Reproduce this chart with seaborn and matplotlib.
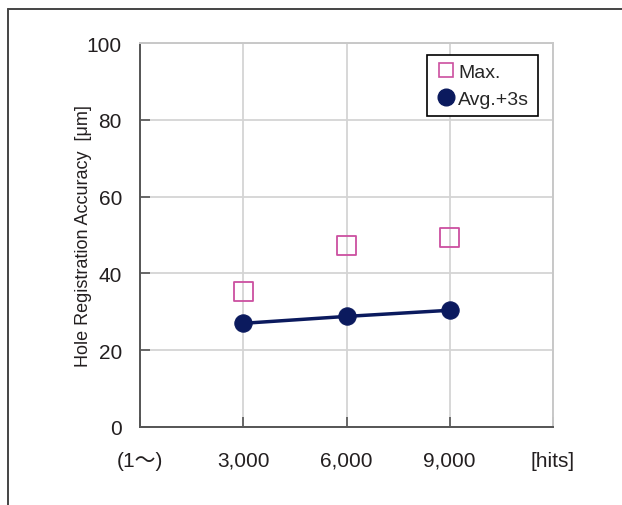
import matplotlib
matplotlib.use('Agg')
import matplotlib.pyplot as plt
import seaborn as sns
import pandas as pd
from matplotlib.lines import Line2D

sns.set_style('whitegrid')
plt.rcParams['font.family'] = ['Liberation Sans', 'Noto Sans CJK JP', 'DejaVu Sans']

# data
hits = [3000, 6000, 9000]
max_vals = [35.3, 47.2, 49.4]
avg3s_vals = [27.0, 28.8, 30.4]
xtick_pos = [0, 3000, 6000, 9000, 12000]
xtick_labels = ['(1～)', '3,000', '6,000', '9,000', '[hits]']
ytick_pos = [0, 20, 40, 60, 80, 100]

df = pd.DataFrame({'hits': hits, 'Max.': max_vals, 'Avg.+3s': avg3s_vals})

navy = '#0b1a5e'
pink = '#cc4fa0'
txt = '#231f20'

fig = plt.figure(figsize=(6.22, 5.06), dpi=100)
ax = fig.add_axes([140/622, 1 - 428/506, 413/622, 384/506])

sns.lineplot(data=df, x='hits', y='Avg.+3s', color=navy, linewidth=2.5,
             marker='o', markersize=12.5, markeredgecolor=navy, ax=ax, label='Avg.+3s', zorder=4)
sns.scatterplot(data=df, x='hits', y='Max.', marker='s', s=185, facecolor='none',
                edgecolor=pink, linewidth=1.3, ax=ax, label='Max.', zorder=3)

ax.set_xlim(0, 12000)
ax.set_ylim(0, 100)
ax.set_xticks(xtick_pos)
ax.set_xticklabels(xtick_labels)
ax.set_yticks(ytick_pos)
ax.set_xlabel('')
ax.set_ylabel('Hole Registration Accuracy  [μm]', fontsize=13, color=txt, labelpad=-3.5)
ax.tick_params(axis='x', direction='in', length=7, width=1.2, color='#555555',
               pad=17, labelsize=15, labelcolor=txt, bottom=True)
ax.tick_params(axis='y', direction='in', length=7, width=1.2, color='#555555',
               pad=13, labelsize=15, labelcolor=txt, left=True)
ax.grid(True, color='#d4d4d4', linewidth=1.3)
for side in ['left', 'bottom']:
    ax.spines[side].set_color('#555555')
    ax.spines[side].set_linewidth(1.4)
for side in ['top', 'right']:
    ax.spines[side].set_color('#c8c8c8')
    ax.spines[side].set_linewidth(1.4)

# legend: Max. first, as in the reference
leg_handles = [Line2D([], [], marker='s', linestyle='none', markersize=9.5,
                      markerfacecolor='none', markeredgecolor=pink, markeredgewidth=1.2),
               Line2D([], [], marker='o', linestyle='none', markersize=12,
                      markerfacecolor=navy, markeredgecolor=navy)]
leg = ax.legend(leg_handles, ['Max.', 'Avg.+3s'], loc='upper right',
                bbox_to_anchor=(0.964, 0.969), borderaxespad=0, fancybox=False,
                framealpha=1, edgecolor='black', fontsize=14, handlelength=1.0,
                handletextpad=0.15, borderpad=0.45, labelspacing=0.45)
leg.get_frame().set_linewidth(1.2)

# outer frame of the picture
fig.add_artist(Line2D([8/622, 8/622], [0, 1 - 10/506], color='#444444', linewidth=1.4))
fig.add_artist(Line2D([8/622, 1], [1 - 10/506, 1 - 10/506], color='#444444', linewidth=1.4))

fig.savefig('out.png', dpi=100)
